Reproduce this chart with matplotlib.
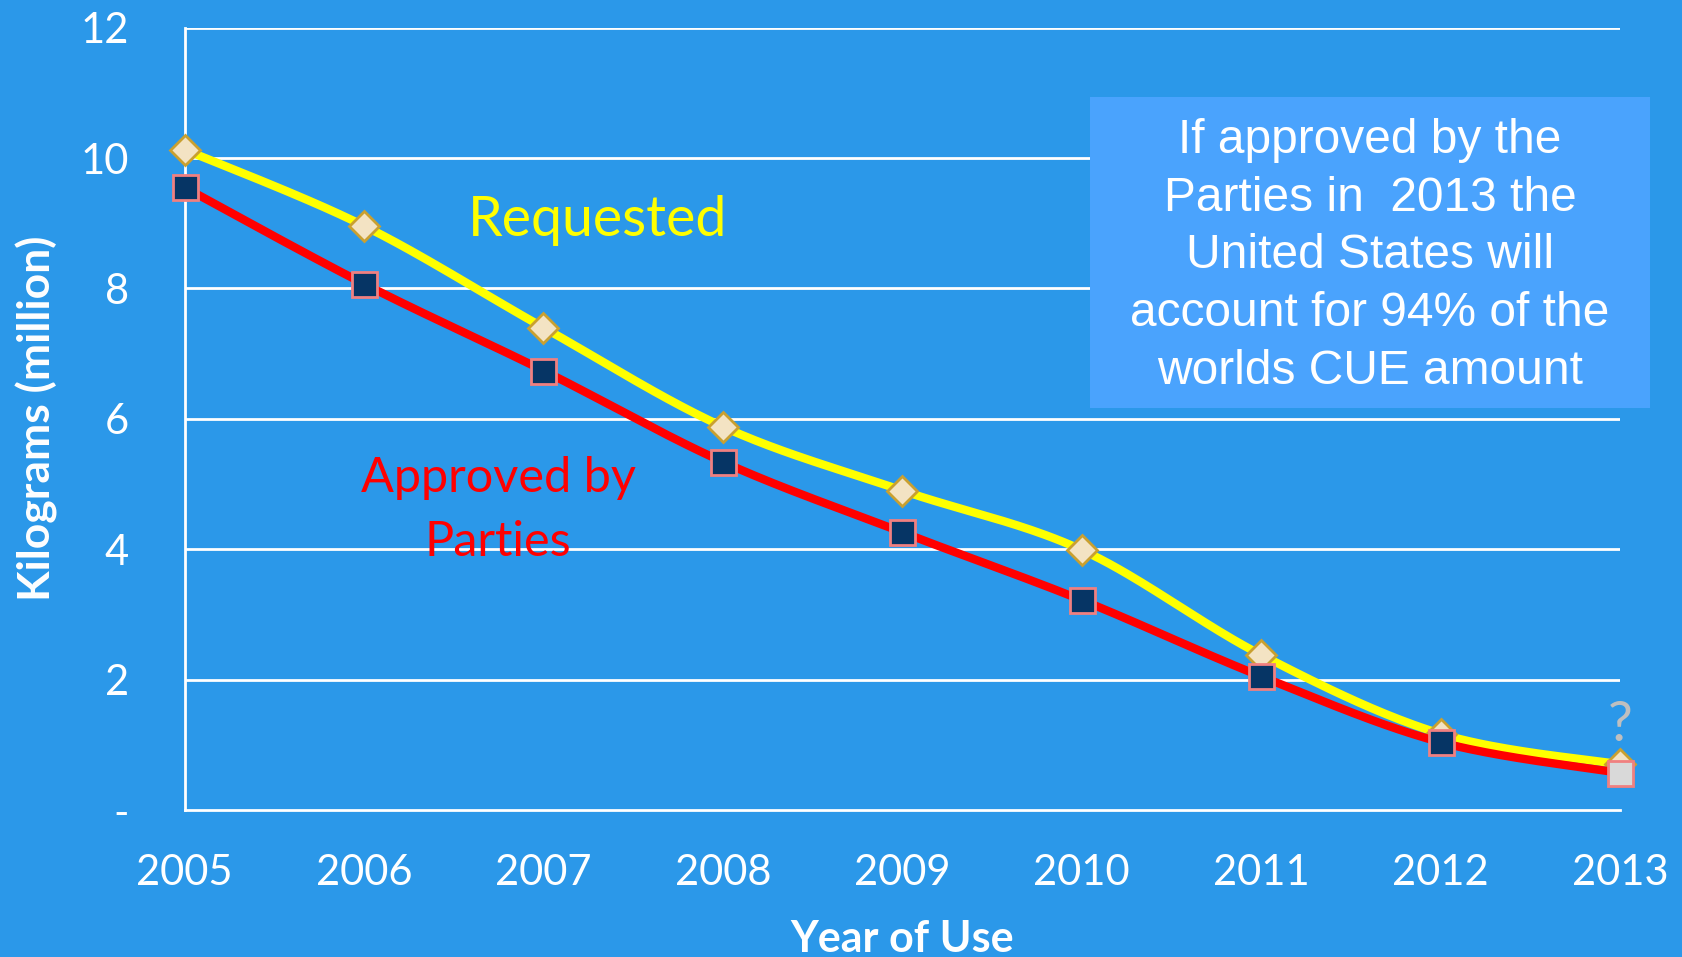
import numpy as np
import matplotlib
matplotlib.use("Agg")
import matplotlib.pyplot as plt

years = [2005, 2006, 2007, 2008, 2009, 2010, 2011, 2012, 2013]
requested = [10.13, 8.96, 7.40, 5.88, 4.90, 3.99, 2.38, 1.17, 0.70]
approved = [9.55, 8.07, 6.74, 5.34, 4.26, 3.22, 2.05, 1.04, 0.57]
yticks = [0, 2, 4, 6, 8, 10, 12]
ytick_labels = ["-", "2", "4", "6", "8", "10", "12"]

BG = "#2B98E9"
BOX = "#4AA3FD"


def smooth(x, y, n=40):
    # Bezier smoothing like spreadsheet "smoothed line" (Catmull-Rom)
    x = np.asarray(x, float)
    y = np.asarray(y, float)
    P = np.column_stack([x, y])
    ext = np.vstack([P[0], P, P[-1]])
    out = []
    t = np.linspace(0, 1, n)
    for i in range(len(P) - 1):
        p0, p1, p2, p3 = ext[i], ext[i + 1], ext[i + 2], ext[i + 3]
        c1 = p1 + (p2 - p0) / 6.0
        c2 = p2 - (p3 - p1) / 6.0
        seg = ((1 - t) ** 3)[:, None] * p1 + (3 * (1 - t) ** 2 * t)[:, None] * c1 \
            + (3 * (1 - t) * t ** 2)[:, None] * c2 + (t ** 3)[:, None] * p2
        out.append(seg if i == 0 else seg[1:])
    S = np.vstack(out)
    return S[:, 0], S[:, 1]


fig = plt.figure(figsize=(16.82, 9.57), dpi=100, facecolor=BG)
ax = fig.add_axes([0.1097, 0.1536, 0.8534, 0.8175], facecolor=BG)

for v in yticks[1:]:
    ax.axhline(v, color="white", lw=2.0, zorder=1)

sx, sy = smooth(years, requested)
ax.plot(sx, sy, color="#FFFF00", lw=6, zorder=3, solid_capstyle="round", clip_on=False)
ax.plot(years, requested, ls="none", marker="D", ms=15, mfc="#F3E3C3", mec="#C9A030",
        mew=2, zorder=4, clip_on=False)

sx, sy = smooth(years, approved)
ax.plot(sx, sy, color="#FF0000", lw=6, zorder=5, solid_capstyle="round", clip_on=False)
ax.plot(years[:-1], approved[:-1], ls="none", marker="s", ms=18, mfc="#063565", mec="#F08080",
        mew=2, zorder=6, clip_on=False)
ax.plot(years[-1:], approved[-1:], ls="none", marker="s", ms=18, mfc="#D9D9D9", mec="#F08080",
        mew=2, zorder=6, clip_on=False)

ax.text(years[-1], approved[-1] + 0.72, "?", color="#BFBFBF", fontsize=40, family="Lato",
        ha="center", va="center", zorder=7)

ax.set_xlim(years[0], years[-1])
ax.set_ylim(0, 12)
ax.set_xticks(years)
ax.set_xticklabels([str(y) for y in years])
ax.set_yticks(yticks)
ax.set_yticklabels(ytick_labels)
ax.tick_params(axis="both", length=0, colors="white", labelsize=30)
ax.tick_params(axis="x", pad=32)
ax.tick_params(axis="y", pad=40)
for lab in ax.get_xticklabels() + ax.get_yticklabels():
    lab.set_family("Lato")

for s in ["top", "right"]:
    ax.spines[s].set_visible(False)
for s in ["left", "bottom"]:
    ax.spines[s].set_color("white")
    ax.spines[s].set_linewidth(2)

fig.text(902 / 1682, 1 - 939 / 957, "Year of Use", color="white", fontsize=31,
         fontweight="bold", family="Lato", ha="center", va="center")
fig.text(37 / 1682, 1 - 418 / 957, "Kilograms (million)", color="white", fontsize=32,
         fontweight="bold", family="Lato", ha="center", va="center", rotation=90)

fig.text(598 / 1682, 1 - 220 / 957, "Requested", color="#FFFF00", fontsize=40,
         family="Lato", ha="center", va="center")
fig.text(498 / 1682, 1 - 510 / 957, "Approved by\nParties", color="#FF0000", fontsize=35,
         family="Lato", ha="center", va="center", linespacing=1.57)

# annotation box
bx0, bx1, by0, by1 = 1090, 1650, 97, 408
fig.patches.append(matplotlib.patches.Rectangle(
    (bx0 / 1682, 1 - by1 / 957), (bx1 - bx0) / 1682, (by1 - by0) / 957,
    transform=fig.transFigure, facecolor=BOX, edgecolor="none", zorder=10))
fig.text(1370 / 1682, 1 - 256 / 957,
         "If approved by the\nParties in  2013 the\nUnited States will\naccount for 94% of the\nworlds CUE amount",
         color="white", fontsize=34.5, family="Liberation Sans", ha="center", va="center",
         linespacing=1.36, zorder=11)

fig.savefig("out.png", dpi=100, facecolor=BG)
